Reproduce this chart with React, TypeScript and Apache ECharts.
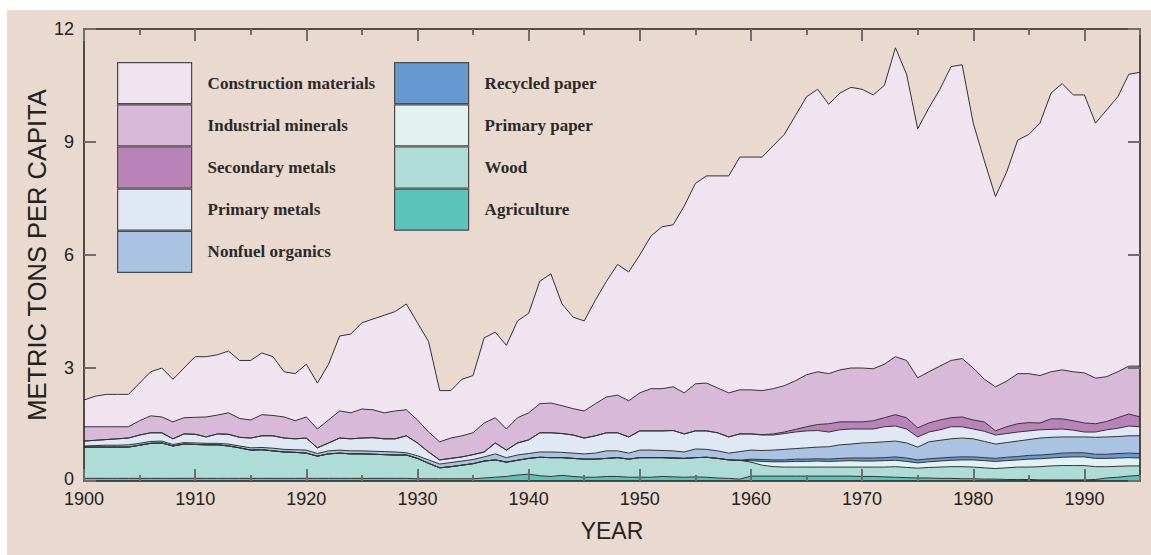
import React, { useEffect, useRef } from "react";
import * as echarts from "echarts";

// Years 1900..1995 (category labels)
const years: string[] = Array.from({ length: 96 }, (_, i) => String(1900 + i));

// Metric tons per capita, by material (stacked from bottom to top)
const agriculture = [
  0.07, 0.07, 0.07, 0.07, 0.07, 0.07, 0.07, 0.07, 0.07, 0.07,
  0.07, 0.07, 0.07, 0.07, 0.07, 0.07, 0.07, 0.07, 0.07, 0.07,
  0.07, 0.07, 0.07, 0.07, 0.07, 0.07, 0.07, 0.07, 0.07, 0.07,
  0.06, 0.06, 0.06, 0.06, 0.06, 0.06, 0.08, 0.10, 0.12, 0.16,
  0.18, 0.14, 0.12, 0.15, 0.12, 0.10, 0.10, 0.12, 0.12, 0.10,
  0.10, 0.10, 0.12, 0.11, 0.10, 0.11, 0.10, 0.08, 0.07, 0.05,
  0.13, 0.13, 0.13, 0.13, 0.13, 0.13, 0.13, 0.13, 0.13, 0.13,
  0.12, 0.12, 0.11, 0.10, 0.09, 0.08, 0.08, 0.07, 0.07, 0.06,
  0.06, 0.05, 0.05, 0.04, 0.04, 0.04, 0.03, 0.03, 0.03, 0.03,
  0.03, 0.04, 0.08, 0.10, 0.13, 0.15,
];
const wood = [
  0.83, 0.83, 0.83, 0.83, 0.83, 0.88, 0.93, 0.94, 0.86, 0.91,
  0.90, 0.89, 0.89, 0.86, 0.81, 0.75, 0.76, 0.73, 0.70, 0.69,
  0.67, 0.59, 0.65, 0.67, 0.65, 0.65, 0.64, 0.63, 0.62, 0.62,
  0.54, 0.41, 0.29, 0.32, 0.36, 0.40, 0.45, 0.46, 0.38, 0.39,
  0.42, 0.49, 0.50, 0.47, 0.48, 0.48, 0.48, 0.48, 0.50, 0.48,
  0.52, 0.52, 0.50, 0.50, 0.50, 0.51, 0.53, 0.52, 0.49, 0.50,
  0.37, 0.29, 0.25, 0.24, 0.24, 0.24, 0.24, 0.24, 0.24, 0.24,
  0.25, 0.25, 0.26, 0.28, 0.27, 0.26, 0.28, 0.30, 0.31, 0.32,
  0.31, 0.30, 0.28, 0.31, 0.33, 0.33, 0.35, 0.37, 0.38, 0.38,
  0.38, 0.34, 0.30, 0.29, 0.27, 0.25,
];
const primaryPaper = [
  0, 0, 0, 0, 0, 0, 0, 0, 0, 0,
  0, 0, 0, 0, 0, 0, 0, 0, 0, 0,
  0, 0, 0, 0, 0, 0, 0, 0, 0, 0,
  0, 0, 0, 0, 0, 0, 0, 0, 0, 0,
  0, 0, 0, 0, 0, 0, 0, 0, 0, 0,
  0, 0, 0, 0, 0, 0, 0, 0, 0, 0,
  0.04, 0.10, 0.13, 0.14, 0.15, 0.15, 0.16, 0.15, 0.16, 0.17,
  0.16, 0.16, 0.17, 0.17, 0.16, 0.14, 0.15, 0.16, 0.17, 0.18,
  0.19, 0.19, 0.19, 0.19, 0.19, 0.21, 0.21, 0.21, 0.22, 0.23,
  0.23, 0.22, 0.22, 0.22, 0.22, 0.21,
];
const recycledPaper = [
  0, 0, 0, 0, 0, 0, 0, 0, 0, 0,
  0, 0, 0, 0, 0, 0, 0, 0, 0, 0,
  0, 0, 0, 0, 0, 0, 0, 0, 0, 0,
  0, 0, 0, 0, 0, 0, 0, 0, 0, 0,
  0, 0, 0, 0, 0, 0, 0, 0, 0, 0,
  0, 0, 0, 0, 0, 0, 0, 0, 0, 0,
  0.04, 0.05, 0.05, 0.05, 0.06, 0.06, 0.06, 0.06, 0.07, 0.07,
  0.08, 0.08, 0.08, 0.09, 0.09, 0.08, 0.08, 0.08, 0.08, 0.08,
  0.08, 0.08, 0.08, 0.09, 0.09, 0.10, 0.10, 0.10, 0.11, 0.11,
  0.11, 0.11, 0.11, 0.12, 0.12, 0.12,
];
const nonfuelOrganics = [
  0.03, 0.04, 0.05, 0.05, 0.06, 0.05, 0.05, 0.05, 0.04, 0.04,
  0.04, 0.04, 0.04, 0.05, 0.05, 0.06, 0.06, 0.07, 0.07, 0.07,
  0.08, 0.07, 0.08, 0.08, 0.08, 0.08, 0.08, 0.08, 0.08, 0.06,
  0.07, 0.09, 0.10, 0.11, 0.11, 0.11, 0.11, 0.16, 0.12, 0.14,
  0.13, 0.14, 0.15, 0.14, 0.14, 0.14, 0.16, 0.20, 0.18, 0.16,
  0.20, 0.20, 0.19, 0.19, 0.17, 0.23, 0.21, 0.20, 0.18, 0.23,
  0.24, 0.24, 0.26, 0.28, 0.28, 0.30, 0.31, 0.33, 0.36, 0.37,
  0.40, 0.41, 0.42, 0.42, 0.40, 0.34, 0.45, 0.47, 0.49, 0.50,
  0.48, 0.43, 0.38, 0.39, 0.41, 0.42, 0.45, 0.45, 0.43, 0.42,
  0.42, 0.45, 0.46, 0.45, 0.46, 0.47,
];
const primaryMetals = [
  0.13, 0.14, 0.15, 0.17, 0.18, 0.22, 0.23, 0.22, 0.15, 0.23,
  0.23, 0.17, 0.25, 0.26, 0.23, 0.26, 0.31, 0.33, 0.30, 0.29,
  0.32, 0.15, 0.21, 0.32, 0.32, 0.34, 0.36, 0.34, 0.35, 0.45,
  0.34, 0.21, 0.11, 0.11, 0.11, 0.13, 0.13, 0.29, 0.20, 0.32,
  0.36, 0.51, 0.51, 0.50, 0.48, 0.42, 0.46, 0.48, 0.48, 0.43,
  0.51, 0.51, 0.52, 0.54, 0.48, 0.48, 0.49, 0.48, 0.43, 0.47,
  0.43, 0.41, 0.40, 0.42, 0.44, 0.45, 0.44, 0.39, 0.40, 0.40,
  0.37, 0.36, 0.40, 0.40, 0.37, 0.27, 0.26, 0.28, 0.32, 0.30,
  0.26, 0.27, 0.24, 0.24, 0.24, 0.23, 0.22, 0.21, 0.21, 0.18,
  0.13, 0.14, 0.19, 0.22, 0.26, 0.24,
];
const secondaryMetals = [
  0, 0, 0, 0, 0, 0, 0, 0, 0, 0,
  0, 0, 0, 0, 0, 0, 0, 0, 0, 0,
  0, 0, 0, 0, 0, 0, 0, 0, 0, 0,
  0, 0, 0, 0, 0, 0, 0, 0, 0, 0,
  0, 0, 0, 0, 0, 0, 0, 0, 0, 0,
  0, 0, 0, 0, 0, 0, 0, 0, 0, 0,
  0, 0.01, 0.03, 0.04, 0.07, 0.11, 0.16, 0.22, 0.21, 0.19,
  0.19, 0.22, 0.24, 0.30, 0.30, 0.24, 0.24, 0.26, 0.24, 0.26,
  0.24, 0.25, 0.11, 0.18, 0.22, 0.22, 0.18, 0.28, 0.27, 0.25,
  0.24, 0.22, 0.22, 0.28, 0.32, 0.26,
];
const industrialMinerals = [
  0.38, 0.36, 0.34, 0.32, 0.30, 0.38, 0.45, 0.42, 0.45, 0.43,
  0.45, 0.53, 0.50, 0.57, 0.50, 0.48, 0.56, 0.54, 0.56, 0.48,
  0.56, 0.50, 0.61, 0.72, 0.69, 0.77, 0.74, 0.69, 0.74, 0.69,
  0.61, 0.53, 0.48, 0.54, 0.56, 0.58, 0.77, 0.67, 0.56, 0.67,
  0.72, 0.77, 0.79, 0.74, 0.70, 0.72, 0.85, 0.95, 1.00, 0.96,
  1.01, 1.12, 1.12, 1.16, 1.09, 1.25, 1.27, 1.19, 1.17, 1.17,
  1.17, 1.17, 1.20, 1.23, 1.29, 1.38, 1.40, 1.33, 1.38, 1.43,
  1.43, 1.38, 1.42, 1.54, 1.52, 1.33, 1.36, 1.43, 1.52, 1.55,
  1.38, 1.13, 1.17, 1.21, 1.33, 1.30, 1.26, 1.25, 1.30, 1.30,
  1.33, 1.21, 1.19, 1.22, 1.27, 1.35,
];
const constructionMaterials = [
  0.71, 0.81, 0.86, 0.86, 0.86, 1.00, 1.17, 1.30, 1.13, 1.32,
  1.61, 1.60, 1.60, 1.64, 1.54, 1.58, 1.64, 1.56, 1.20, 1.25,
  1.40, 1.22, 1.48, 1.99, 2.09, 2.29, 2.41, 2.59, 2.64, 2.81,
  2.58, 2.40, 1.36, 1.26, 1.50, 1.52, 2.26, 2.27, 2.22, 2.57,
  2.64, 3.25, 3.43, 2.70, 2.43, 2.39, 2.75, 3.07, 3.47, 3.42,
  3.66, 4.05, 4.30, 4.30, 4.96, 5.32, 5.50, 5.63, 5.76, 6.18,
  6.18, 6.20, 6.45, 6.67, 7.04, 7.38, 7.50, 7.15, 7.35, 7.45,
  7.40, 7.27, 7.40, 8.20, 7.60, 6.61, 7.00, 7.35, 7.80, 7.80,
  6.50, 5.80, 5.05, 5.55, 6.20, 6.35, 6.70, 7.40, 7.60, 7.35,
  7.38, 6.77, 7.08, 7.30, 7.75, 7.80,
];

const yTicks = [0, 3, 6, 9, 12];

// Stack order: bottom first
const layers = [
  { name: "Agriculture", data: agriculture, color: "#5CC3BA" },
  { name: "Wood", data: wood, color: "#AEDDD7" },
  { name: "Primary paper", data: primaryPaper, color: "#E2F2F1" },
  { name: "Recycled paper", data: recycledPaper, color: "#6699D2" },
  { name: "Nonfuel organics", data: nonfuelOrganics, color: "#ABC3E3" },
  { name: "Primary metals", data: primaryMetals, color: "#E0E7F5" },
  { name: "Secondary metals", data: secondaryMetals, color: "#B983BA" },
  { name: "Industrial minerals", data: industrialMinerals, color: "#D8B9DA" },
  { name: "Construction materials", data: constructionMaterials, color: "#F0E4F1" },
];

const legendLeft = [
  "Construction materials",
  "Industrial minerals",
  "Secondary metals",
  "Primary metals",
  "Nonfuel organics",
];
const legendRight = ["Recycled paper", "Primary paper", "Wood", "Agriculture"];

const colorOf = (n: string) => layers.find((l) => l.name === n)!.color;

const SANS = "'Liberation Sans', Arial, Helvetica, sans-serif";
const SERIF = "'Liberation Serif', 'Times New Roman', serif";
const tickLine = { color: "#6e6e6e", width: 2 };
const axisLine = { show: true, lineStyle: { color: "#1c1c1c", width: 1.5 } };

function makeLegend(names: string[], left: number) {
  return {
    orient: "vertical",
    left,
    top: 52,
    padding: 0,
    itemWidth: 74,
    itemHeight: 41,
    itemGap: 0,
    icon: "rect",
    selectedMode: false,
    itemStyle: { borderColor: "#4a4a4a", borderWidth: 1.2 },
    textStyle: {
      fontFamily: SERIF,
      fontSize: 17,
      fontWeight: "bold",
      color: "#2a2a2a",
      padding: [0, 0, 0, 11],
    },
    data: names.map((n) => ({ name: n, icon: "rect", itemStyle: { color: colorOf(n) } })),
  };
}

export default function App() {
  const ref = useRef<HTMLDivElement>(null);
  useEffect(() => {
    if (!ref.current) return;
    const chart = echarts.init(ref.current, null, { renderer: "svg" });
    const major = (i: number) => i % 10 === 0;
    const minor = (i: number) => i % 5 === 0 && i % 10 !== 0;
    chart.setOption({
      animation: false,
      backgroundColor: "#E9D9CF",
      grid: { left: 77, right: 11, top: 19, bottom: 74 },
      legend: [makeLegend(legendLeft, 110), makeLegend(legendRight, 387)],
      xAxis: [
        {
          type: "category",
          data: years,
          boundaryGap: false,
          position: "bottom",
          z: 10,
          axisLine,
          axisTick: { show: true, inside: true, length: 12, interval: major, lineStyle: tickLine },
          axisLabel: {
            interval: major,
            margin: 11,
            fontSize: 18,
            lineHeight: 14,
            fontFamily: SANS,
            color: "#222",
          },
          splitLine: { show: false },
          name: "YEAR",
          nameLocation: "middle",
          nameGap: 38,
          nameTextStyle: { fontSize: 23, fontFamily: SANS, color: "#222" },
        },
        {
          type: "category",
          data: years,
          boundaryGap: false,
          position: "bottom",
          z: 10,
          axisLine: { show: false },
          axisTick: { show: true, inside: true, length: 6, interval: minor, lineStyle: tickLine },
          axisLabel: { show: false },
          splitLine: { show: false },
        },
        {
          type: "category",
          data: years,
          boundaryGap: false,
          position: "top",
          z: 10,
          axisLine,
          axisTick: { show: true, inside: true, length: 12, interval: major, lineStyle: tickLine },
          axisLabel: { show: false },
          splitLine: { show: false },
        },
        {
          type: "category",
          data: years,
          boundaryGap: false,
          position: "top",
          z: 10,
          axisLine: { show: false },
          axisTick: { show: true, inside: true, length: 6, interval: minor, lineStyle: tickLine },
          axisLabel: { show: false },
          splitLine: { show: false },
        },
      ],
      yAxis: [
        {
          type: "value",
          min: yTicks[0],
          max: yTicks[yTicks.length - 1],
          interval: 3,
          position: "left",
          z: 10,
          axisLine,
          axisTick: { show: true, inside: true, length: 12, lineStyle: tickLine },
          axisLabel: {
            margin: 10,
            fontSize: 18,
            lineHeight: 14,
            fontFamily: SANS,
            color: "#222",
            formatter: (v: number) => (v === 0 ? "{z|0}" : String(v)),
            rich: {
              z: { fontSize: 18, lineHeight: 14, fontFamily: SANS, color: "#222", padding: [0, 0, 5, 0] },
            },
          },
          splitLine: { show: false },
          name: "METRIC TONS PER CAPITA",
          nameLocation: "middle",
          nameGap: 34,
          nameMoveOverlap: false,
          nameTextStyle: { fontSize: 25.5, fontFamily: SANS, color: "#222" },
        },
        {
          type: "value",
          min: yTicks[0],
          max: yTicks[yTicks.length - 1],
          interval: 3,
          position: "right",
          z: 10,
          axisLine,
          axisTick: { show: true, inside: true, length: 12, lineStyle: tickLine },
          axisLabel: { show: false },
          splitLine: { show: false },
        },
      ],
      series: layers.map((l) => ({
        type: "line",
        name: l.name,
        stack: "total",
        xAxisIndex: 0,
        yAxisIndex: 0,
        data: l.data,
        symbol: "none",
        showSymbol: false,
        silent: true,
        itemStyle: { color: l.color },
        lineStyle: { color: "#333", width: 1 },
        areaStyle: { color: l.color, opacity: 1 },
        emphasis: { disabled: true },
      })),
    });
    return () => chart.dispose();
  }, []);
  return (
    <div
      ref={ref}
      style={{
        position: "fixed",
        left: 7,
        top: 10,
        width: 1144,
        height: 545,
        background: "#E9D9CF",
      }}
    />
  );
}
